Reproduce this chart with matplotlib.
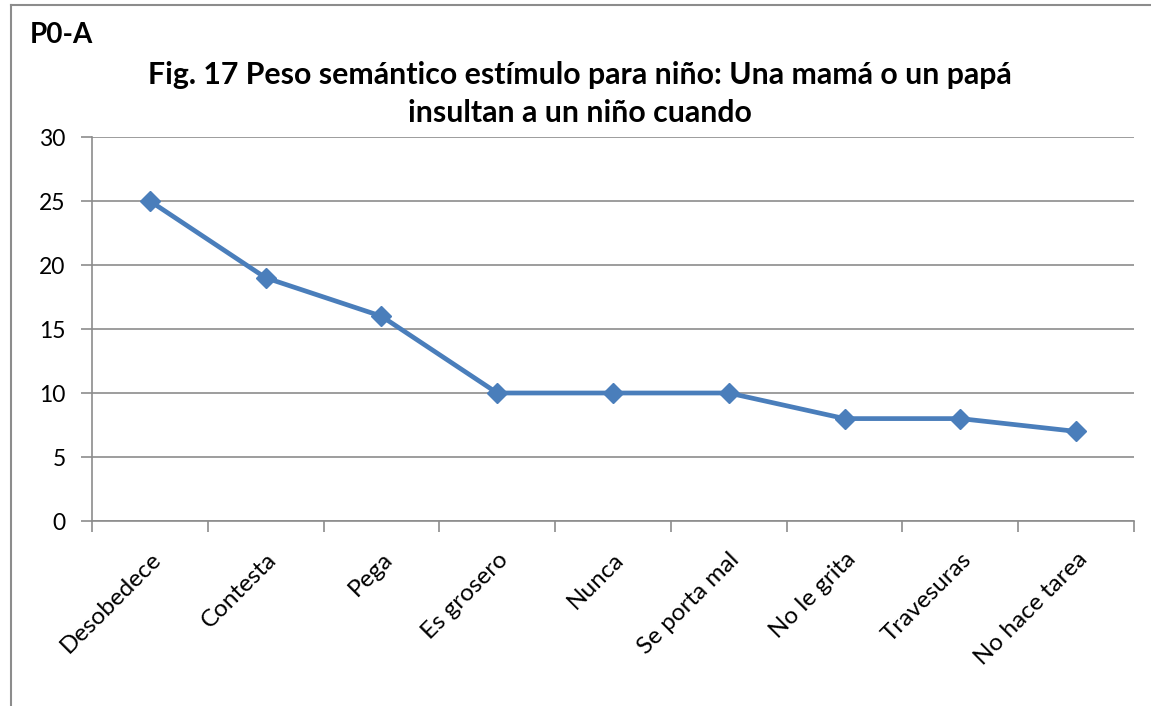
import matplotlib
matplotlib.use("Agg")
import matplotlib.pyplot as plt
from matplotlib.lines import Line2D

categories = ["Desobedece", "Contesta", "Pega", "Es grosero", "Nunca",
              "Se porta mal", "No le grita", "Travesuras", "No hace tarea"]
values = [25, 19, 16, 10, 10, 10, 8, 8, 7]
yticks = [0, 5, 10, 15, 20, 25, 30]

plt.rcParams['font.family'] = ['Lato', 'DejaVu Sans']

W, H = 1151, 706
fig = plt.figure(figsize=(W / 100, H / 100), dpi=100)
ax = fig.add_axes([92 / W, 1 - 521 / H, (1134 - 92) / W, (521 - 137) / H])

n = len(categories)
x = list(range(n))
ax.plot(x, values, color="#4A7EBB", lw=3.4, marker="D", markersize=10,
        markerfacecolor="#4A7EBB", markeredgecolor="#4A7EBB", zorder=3,
        solid_joinstyle="round")

ax.set_xlim(-0.5, n - 0.5)
ax.set_ylim(0, 30)
ax.set_yticks(yticks)
ax.set_yticklabels([str(v) for v in yticks], fontsize=16.5)
ax.grid(axis="y", color="#8C8C8C", lw=1.2)
ax.set_axisbelow(True)

ax.set_xticks([i - 0.5 for i in range(n + 1)])
ax.set_xticklabels([])
ax.set_xticks(x, minor=True)
ax.set_xticklabels(categories, minor=True, rotation=45, ha="right", va="top",
                   rotation_mode="anchor", fontsize=17.5)
ax.tick_params(axis="x", which="minor", length=0, pad=20)
ax.tick_params(axis="x", which="major", length=8, width=1.2, color="#8C8C8C", direction="out")
ax.tick_params(axis="y", length=8, width=1.2, color="#8C8C8C", direction="out", pad=11)

for s in ["top", "right"]:
    ax.spines[s].set_visible(False)
for s in ["left", "bottom"]:
    ax.spines[s].set_color("#8C8C8C")
    ax.spines[s].set_linewidth(1.2)

fig.text(580 / W, 1 - 94 / H, "Fig. 17 Peso semántico estímulo para niño: Una mamá o un papá\ninsultan a un niño cuando",
         ha="center", va="center", fontsize=21.8, fontweight="bold", linespacing=1.4)
fig.text(30 / W, 1 - 35 / H, "P0-A", ha="left", va="center", fontsize=20, fontweight="bold")

# outer chart border (partially visible)
fig.add_artist(Line2D([11 / W, 11 / W], [0, 1 - 5 / H], transform=fig.transFigure, color="#8C8C8C", lw=1.5))
fig.add_artist(Line2D([11 / W, 1], [1 - 5 / H, 1 - 5 / H], transform=fig.transFigure, color="#8C8C8C", lw=1.5))

fig.savefig("out.png", dpi=100)
